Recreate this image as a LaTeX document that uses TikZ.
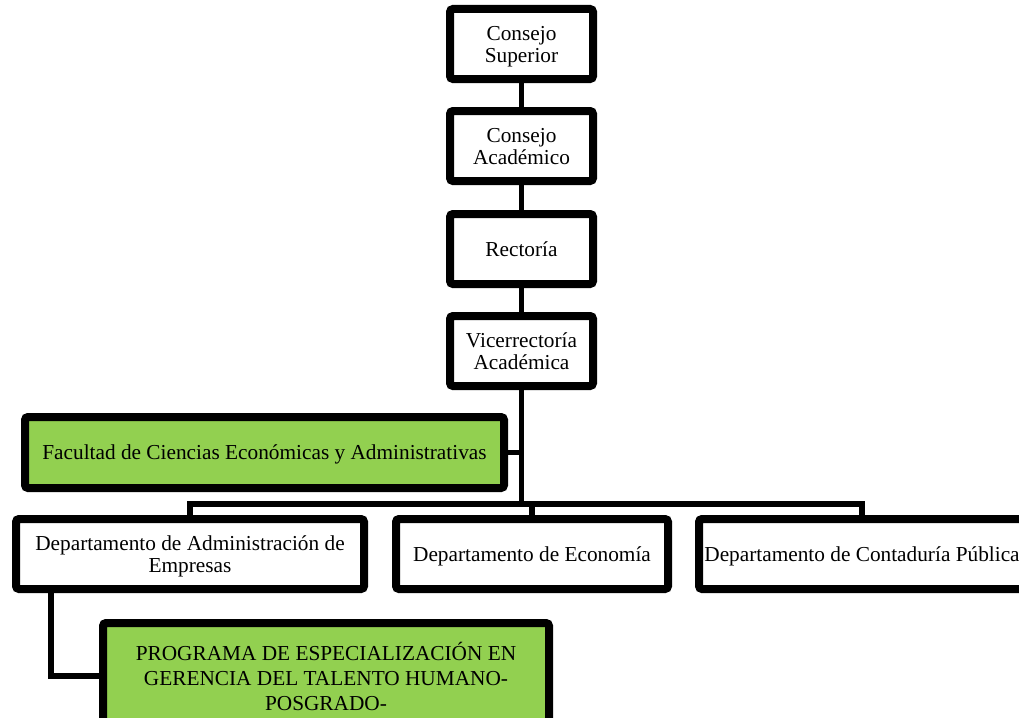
\documentclass[tikz,border=0pt]{standalone}
\usepackage{fontspec}
\setmainfont{Liberation Serif}
\usetikzlibrary{shadows}
\definecolor{boxgreen}{HTML}{92D050}
\begin{document}
\begin{tikzpicture}[x=1pt,y=-1pt,
  box/.style={draw=black, line width=8pt, rounded corners=3pt, fill=white, align=center,
    inner sep=0pt, outer sep=0pt, text depth=0pt, font=\fontsize{21.3}{22}\selectfont,
    drop shadow={shadow xshift=1.5pt, shadow yshift=-2.5pt, opacity=0.3, fill=black!70}},
  greenbox/.style={box, fill=boxgreen},
  link/.style={draw=black, line width=5.5pt}]
\useasboundingbox (0,0) rectangle (1019,717);
\clip (0,0) rectangle (1019,717);
% nodes
\node[box, minimum width=143pt, minimum height=70pt] (cs) at (521.5,44) {Consejo\\Superior};
\node[box, minimum width=143pt, minimum height=70pt] (ca) at (521.5,146) {Consejo\\Académico};
\node[box, minimum width=143pt, minimum height=70pt] (re) at (521.5,249) {Rectoría};
\node[box, minimum width=143pt, minimum height=70pt] (vr) at (521.5,351) {Vicerrectoría\\Académica};
\node[greenbox, minimum width=479pt, minimum height=71pt] (fac) at (264.5,452.5) {Facultad de Ciencias Económicas y Administrativas};
\node[box, minimum width=348pt, minimum height=70pt] (adm) at (190,554) {Departamento de Administración de\\Empresas};
\node[box, minimum width=272pt, minimum height=70pt] (eco) at (532,554) {Departamento de Economía};
\node[box, minimum width=326pt, minimum height=70pt] (con) at (862,554) {Departamento de Contaduría Pública};
\node[greenbox, minimum width=446pt, minimum height=106pt, font=\fontsize{21.3}{25}\selectfont] (prog) at (326,676) {PROGRAMA DE ESPECIALIZACIÓN EN\\GERENCIA DEL TALENTO HUMANO-\\POSGRADO-};
% connectors
\coordinate (busm) at (521.5,504);
\coordinate (progdrop) at (51,590);
\draw[link] (cs.south) -- (ca.north);
\draw[link] (ca.south) -- (re.north);
\draw[link] (re.south) -- (vr.north);
\draw[link] (vr.south) -- (busm);
\draw[link] (fac.east) -- (fac.east -| busm);
\draw[link, line join=miter] (adm.north) -- (adm.north |- busm) -- (con.north |- busm) -- (con.north);
\draw[link] (eco.north) -- (eco.north |- busm);
\draw[link, line join=miter] (progdrop) -- (progdrop |- prog.west) -- (prog.west);
\end{tikzpicture}
\end{document}
